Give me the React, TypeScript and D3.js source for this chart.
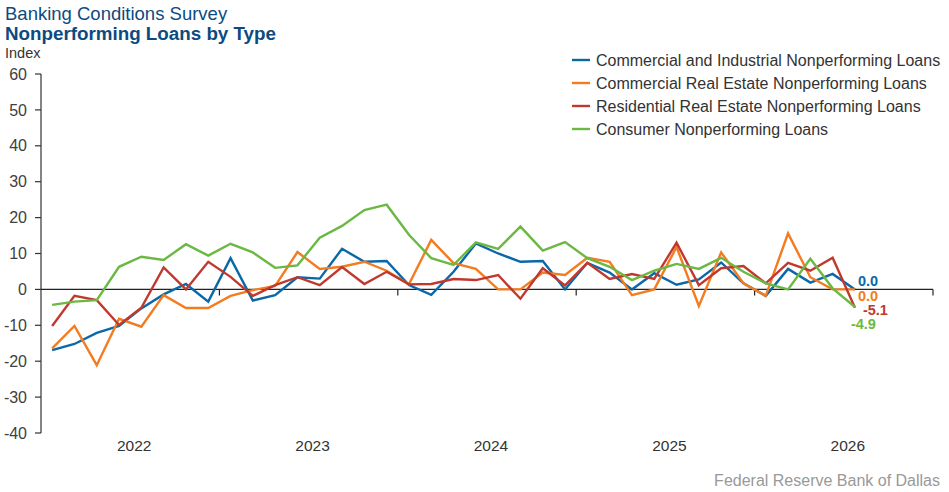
import React from "react";
import * as d3 from "d3";

const years = ["2022", "2023", "2024", "2025", "2026"];
const periodsPerYear = 8;
const totalSlots = years.length * periodsPerYear;

const ciLoans = [-16.9, -15.2, -12.1, -10.2, -5.3, -1.4, 1.5, -3.4, 8.7, -3.1, -1.6, 3.4, 3.0, 11.3, 7.7, 7.9, 1.2, -1.5, 4.9, 12.8, 10.0, 7.7, 7.9, 0.0, 7.4, 4.7, 0.0, 4.5, 1.3, 2.8, 7.5, 1.7, -1.8, 5.7, 1.9, 4.3, 0.0];
const creLoans = [-16.4, -10.2, -21.1, -8.2, -10.4, -1.6, -5.2, -5.2, -1.8, -0.2, 1.0, 10.4, 5.7, 6.3, 7.7, 5.2, 1.4, 13.8, 7.3, 5.7, 0.0, 0.0, 4.7, 4.0, 8.8, 7.7, -1.6, 0.0, 11.8, -4.6, 10.3, 1.7, -1.8, 15.6, 3.4, 0.0, 0.0];
const rreLoans = [-10.2, -1.8, -3.0, -9.9, -5.1, 6.1, 0.0, 7.7, 3.5, -1.8, 1.2, 3.4, 1.2, 6.2, 1.5, 4.9, 1.4, 1.5, 2.9, 2.6, 4.0, -2.6, 5.9, 1.1, 7.4, 2.9, 4.3, 2.9, 13.0, 1.2, 5.9, 6.5, 1.7, 7.4, 5.2, 8.8, -5.1];
const consumerLoans = [-4.3, -3.4, -3.0, 6.3, 9.1, 8.2, 12.6, 9.4, 12.7, 10.3, 6.0, 6.7, 14.4, 17.7, 22.1, 23.6, 15.2, 8.7, 6.8, 13.1, 11.3, 17.5, 10.8, 13.2, 8.7, 6.3, 2.6, 5.2, 7.1, 5.7, 8.8, 4.9, 1.7, 0.0, 8.5, 0.3, -4.9];

const seriesNames = [
  "Commercial and Industrial Nonperforming Loans",
  "Commercial Real Estate Nonperforming Loans",
  "Residential Real Estate Nonperforming Loans",
  "Consumer Nonperforming Loans",
];
const yTicks = [60, 50, 40, 30, 20, 10, 0, -10, -20, -30, -40];

const colors = ["#0b68a8", "#f47c20", "#c0392e", "#6bb843"];
const labelOffsets = [
  { dx: 3, dy: -8 },
  { dx: 3, dy: 7 },
  { dx: 8, dy: 2 },
  { dx: -4, dy: 17 },
];

const FONT = "'Liberation Sans', Arial, Helvetica, sans-serif";

export default function App() {
  const W = 949;
  const H = 492;
  const left = 41;
  const right = 933;
  const top = 74;
  const bottom = 433;

  const x = d3.scaleBand<number>().domain(d3.range(totalSlots)).range([left, right]).padding(0);
  const cx = (i: number) => (x(i) as number) + x.bandwidth() / 2;
  const y = d3.scaleLinear().domain([-40, 60]).range([bottom, top]);

  const data = [ciLoans, creLoans, rreLoans, consumerLoans];
  const line = d3
    .line<number>()
    .x((_, i) => cx(i))
    .y((v) => y(v));

  const yearBoundaries = d3.range(1, years.length + 1).map((k) => x(k * periodsPerYear) ?? right);

  return (
    <svg
      width={W}
      height={H}
      style={{ position: "absolute", left: 0, top: 0, background: "#fff" }}
      fontFamily={FONT}
    >
      <text x={5} y={20} fontSize={18.5} fill="#0d4a80">Banking Conditions Survey</text>
      <text x={5} y={40} fontSize={18.8} fontWeight="bold" fill="#0d4a80">Nonperforming Loans by Type</text>
      <text x={5} y={58} fontSize={14.5} fill="#333">Index</text>

      {/* y axis */}
      <line x1={left} x2={left} y1={top} y2={bottom} stroke="#333" strokeWidth={1.2} />
      {yTicks.map((t) => (
        <g key={t}>
          <line x1={left - 6} x2={left} y1={y(t)} y2={y(t)} stroke="#333" strokeWidth={1.2} />
          <text x={27} y={y(t)} dy="0.35em" textAnchor="end" fontSize={16} fill="#404040">
            {t}
          </text>
        </g>
      ))}

      {/* zero line with year ticks */}
      <line x1={left} x2={right} y1={y(0)} y2={y(0)} stroke="#222" strokeWidth={1.3} />
      {yearBoundaries.map((bx, k) => (
        <line key={k} x1={bx} x2={bx} y1={y(0)} y2={y(0) + 6} stroke="#222" strokeWidth={1.2} />
      ))}
      {years.map((yr, k) => {
        const x0 = x(k * periodsPerYear) as number;
        const mid = x0 + (x.bandwidth() * periodsPerYear) / 2 + 4;
        return (
          <text key={yr} x={mid} y={446} dy="0.35em" textAnchor="middle" fontSize={15.5} fill="#333">
            {yr}
          </text>
        );
      })}

      {/* series */}
      {data.map((vals, s) => (
        <path key={s} d={line(vals) ?? ""} fill="none" stroke={colors[s]} strokeWidth={2.4} strokeLinejoin="miter" />
      ))}

      {/* end labels */}
      {data.map((vals, s) => {
        const last = vals.length - 1;
        const v = vals[last];
        return (
          <text
            key={s}
            x={cx(last) + labelOffsets[s].dx}
            y={y(v) + labelOffsets[s].dy}
            dy="0.35em"
            fontSize={14.5}
            fontWeight="bold"
            fill={colors[s]}
          >
            {v.toFixed(1)}
          </text>
        );
      })}

      {/* legend */}
      {seriesNames.map((name, s) => {
        const ly = 60 + s * 23;
        return (
          <g key={name}>
            <line x1={572} x2={590} y1={ly} y2={ly} stroke={colors[s]} strokeWidth={2.4} />
            <text x={596} y={ly} dy="0.35em" fontSize={16} fill="#333">
              {name}
            </text>
          </g>
        );
      })}

      <text x={940} y={480} dy="0.35em" textAnchor="end" fontSize={16} fill="#999">
        Federal Reserve Bank of Dallas
      </text>
    </svg>
  );
}
